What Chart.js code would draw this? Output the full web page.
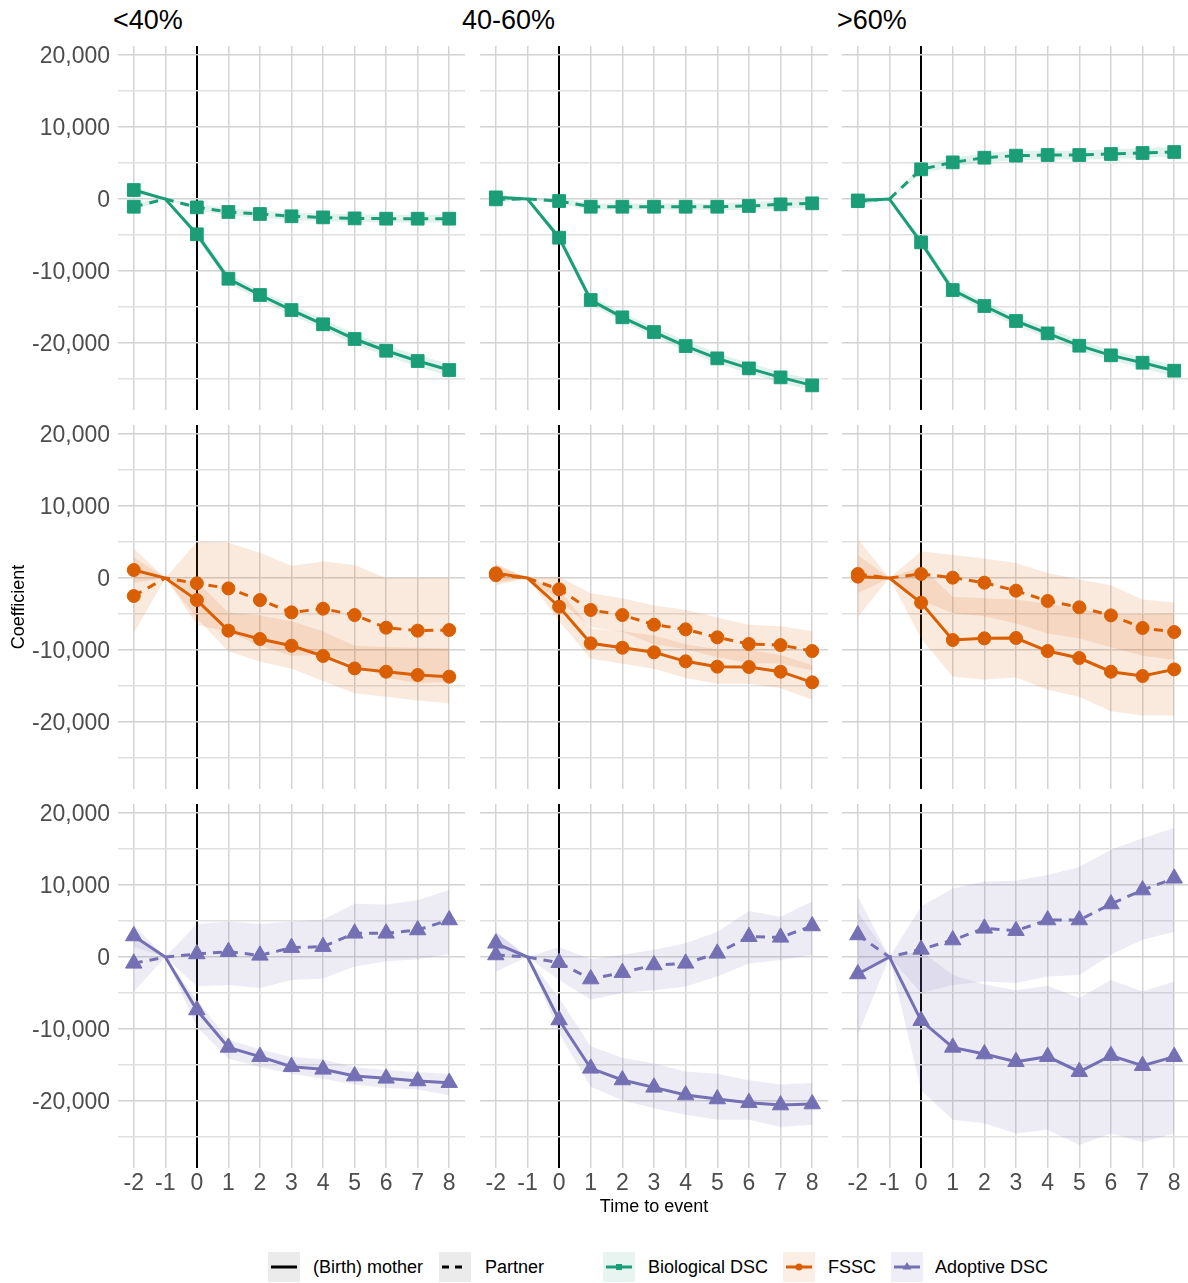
<!DOCTYPE html>
<html>
<head>
<meta charset="utf-8">
<script src="https://cdn.jsdelivr.net/npm/chart.js@4.4.1/dist/chart.umd.min.js"></script>
<style>
  body { margin: 0; background: #fff; font-family: 'Liberation Sans', Arial, sans-serif; }
  #page { position: relative; width: 1188px; height: 1283px; overflow: hidden; }
  .panel { position: absolute; }
  .strip { position: absolute; top: 4px; font-size: 27px; line-height: 32px; color: #000; }
  .key { position: absolute; top: 1252px; width: 32px; height: 30px; }
  .key svg { display: block; }
  .lab { position: absolute; top: 1256px; font-size: 18px; line-height: 22px; color: #000; }
</style>
</head>
<body>
<div id="page">
  <div class="strip" style="left:113px">&lt;40%</div>
  <div class="strip" style="left:462px">40-60%</div>
  <div class="strip" style="left:837px">&gt;60%</div>

  <div class="key" style="left:268px;background:#ebebeb">
    <svg width="32" height="30"><line x1="3" y1="15" x2="29" y2="15" stroke="#000" stroke-width="3"/></svg>
  </div>
  <div class="lab" style="left:313px">(Birth) mother</div>
  <div class="key" style="left:439px;background:#ebebeb">
    <svg width="32" height="30"><line x1="3" y1="15" x2="29" y2="15" stroke="#000" stroke-width="3" stroke-dasharray="7 6"/></svg>
  </div>
  <div class="lab" style="left:485px">Partner</div>

  <div class="key" style="left:603px;background:#e8f4ef">
    <svg width="32" height="30"><line x1="3" y1="15" x2="29" y2="15" stroke="#1b9e77" stroke-width="3"/><rect x="13" y="12" width="6" height="6" fill="#1b9e77"/></svg>
  </div>
  <div class="lab" style="left:648px">Biological DSC</div>
  <div class="key" style="left:783px;background:#fbeee4">
    <svg width="32" height="30"><line x1="3" y1="15" x2="29" y2="15" stroke="#d95f02" stroke-width="3"/><circle cx="16" cy="15" r="3.5" fill="#d95f02"/></svg>
  </div>
  <div class="lab" style="left:828px">FSSC</div>
  <div class="key" style="left:891px;background:#efeef6">
    <svg width="32" height="30"><line x1="3" y1="15" x2="29" y2="15" stroke="#7570b3" stroke-width="3"/><polygon points="16,10 20.5,17.5 11.5,17.5" fill="#7570b3"/></svg>
  </div>
  <div class="lab" style="left:935px">Adoptive DSC</div>
</div>

<script>
// time to event (years), also used as x tick labels
const timePoints = [-2, -1, 0, 1, 2, 3, 4, 5, 6, 7, 8];
const xTicks = [-2, -1, 0, 1, 2, 3, 4, 5, 6, 7, 8];
const groups = ['<40%', '40-60%', '>60%'];
const yMajorTicks = [-20000, -10000, 0, 10000, 20000];
const yMinorTicks = [-25000, -15000, -5000, 5000, 15000];

// Biological DSC, one row per group (<40%, 40-60%, >60%)
const bioMother = [
  [1250, 0, -4900, -11070, -13330, -15420, -17400, -19440, -21070, -22500, -23750],
  [230, 0, -5370, -14030, -16430, -18470, -20420, -22130, -23520, -24770, -25880],
  [-200, 0, -6020, -12640, -14860, -16940, -18660, -20370, -21710, -22730, -23840]
];
const bioMotherLo = [
  [700, 0, -5500, -11700, -14000, -16100, -18100, -20200, -21800, -23300, -24600],
  [-300, 0, -5900, -14600, -17000, -19100, -21100, -22800, -24200, -25500, -26600],
  [-800, 0, -6600, -13200, -15500, -17600, -19300, -21100, -22400, -23500, -24600]
];
const bioMotherHi = [
  [1800, 0, -4300, -10400, -12700, -14700, -16700, -18700, -20300, -21700, -22900],
  [800, 0, -4800, -13400, -15800, -17800, -19700, -21400, -22800, -24000, -25100],
  [400, 0, -5400, -12000, -14200, -16300, -17900, -19600, -21000, -22000, -23100]
];
const bioPartner = [
  [-1070, 0, -1160, -1800, -2080, -2400, -2550, -2690, -2730, -2730, -2730],
  [-50, 0, -280, -1070, -1070, -1070, -1070, -1070, -970, -740, -600],
  [-300, 0, 4120, 5090, 5740, 6020, 6110, 6110, 6250, 6390, 6530]
];
const bioPartnerLo = [
  [-1600, 0, -1600, -2300, -2600, -2900, -3100, -3200, -3300, -3300, -3300],
  [-600, 0, -700, -1500, -1500, -1500, -1500, -1600, -1500, -1300, -1200],
  [-900, 0, 3500, 4500, 5100, 5400, 5500, 5500, 5600, 5700, 5900]
];
const bioPartnerHi = [
  [-500, 0, -700, -1300, -1600, -1900, -2000, -2100, -2200, -2200, -2200],
  [500, 0, 100, -600, -600, -600, -600, -600, -400, -200, 0],
  [300, 0, 4700, 5700, 6400, 6700, 6700, 6700, 6900, 7100, 7200]
];

// FSSC
const fsscMother = [
  [1110, 0, -3060, -7310, -8470, -9400, -10830, -12550, -13010, -13470, -13700],
  [650, 0, -3980, -9070, -9680, -10320, -11570, -12310, -12360, -13010, -14490],
  [190, 0, -3430, -8610, -8380, -8330, -10140, -11110, -13010, -13610, -12690]
];
const fsscMotherLo = [
  [-700, 0, -5600, -10200, -11600, -12600, -14300, -16000, -16500, -17000, -17400],
  [-700, 0, -6000, -11200, -11900, -12600, -13900, -14700, -14700, -15300, -16900],
  [-5400, 0, -8400, -13700, -14100, -13800, -15500, -16500, -18500, -19100, -19100]
];
const fsscMotherHi = [
  [2900, 0, -500, -4800, -5200, -6000, -7400, -9400, -9600, -9700, -9800],
  [2000, 0, -1600, -7000, -7400, -8000, -9200, -9900, -10000, -10700, -12100],
  [5400, 0, 1600, -2600, -2800, -3000, -3600, -4300, -5000, -5000, -4900]
];
const fsscPartner = [
  [-2500, 0, -740, -1440, -3060, -4770, -4260, -5140, -6900, -7310, -7220],
  [400, 0, -1570, -4440, -5140, -6480, -7130, -8240, -9170, -9310, -10140],
  [560, 0, 560, 50, -650, -1760, -3190, -4070, -5190, -6940, -7500]
];
const fsscPartnerLo = [
  [-7700, 0, -6500, -7500, -9400, -10800, -10700, -11900, -13800, -14600, -14400],
  [-1000, 0, -3100, -6800, -7500, -9200, -9900, -11000, -11800, -11900, -12800],
  [-2100, 0, -3100, -4900, -5300, -6300, -7700, -8400, -9600, -10800, -11400]
];
const fsscPartnerHi = [
  [4100, 0, 5000, 4900, 3500, 1700, 2300, 1800, 0, 0, 0],
  [1800, 0, 200, -2100, -2800, -3800, -4400, -5500, -6500, -6700, -7400],
  [3200, 0, 3700, 3200, 2700, 2100, 700, -200, -1000, -3000, -3400]
];

// Adoptive DSC
const adoptMother = [
  [2920, 0, -7360, -12550, -13840, -15230, -15600, -16530, -16850, -17220, -17450],
  [1900, 0, -8750, -15460, -17080, -18100, -19170, -19720, -20230, -20560, -20420],
  [-2360, 0, -8840, -12550, -13470, -14540, -13840, -15930, -13700, -15090, -13840]
];
const adoptMotherLo = [
  [1400, 0, -9700, -14100, -15300, -16200, -16900, -17700, -18200, -18400, -19200],
  [300, 0, -10600, -18000, -19900, -21000, -21900, -22600, -22600, -23600, -23300],
  [-10800, 0, -18500, -22600, -23100, -24500, -24000, -26100, -24500, -25700, -24500]
];
const adoptMotherHi = [
  [4400, 0, -6000, -11500, -12800, -13900, -14200, -15300, -15700, -16000, -16200],
  [3500, 0, -5700, -12400, -14000, -14800, -15900, -16200, -17100, -17700, -17500],
  [6200, 0, 800, -2500, -3800, -4600, -4000, -5700, -3200, -4800, -3400]
];
const adoptPartner = [
  [-880, 0, 420, 740, 230, 1300, 1440, 3290, 3290, 3750, 5140],
  [280, 0, -790, -3060, -2170, -1110, -880, 510, 2820, 2730, 4310],
  [3060, 0, 1060, 2360, 3980, 3660, 5140, 5140, 7360, 9300, 10930]
];
const adoptPartnerLo = [
  [-4800, 0, -4100, -3900, -4300, -3200, -3000, -1300, -600, -300, 400],
  [-2000, 0, -3200, -5900, -5000, -4600, -4100, -2700, -900, -400, 300],
  [-2300, 0, -5000, -3900, -3400, -3600, -2700, -2500, 300, 2400, 3500]
];
const adoptPartnerHi = [
  [3000, 0, 4600, 4900, 4600, 4900, 5200, 7400, 7300, 7900, 9300],
  [3500, 0, 1400, -300, 300, 1000, 1900, 3500, 6400, 5600, 7700],
  [8400, 0, 7000, 9500, 10500, 10600, 11400, 12500, 14900, 16500, 17900]
];

const FONT = "'Liberation Sans', Arial, sans-serif";

const rows = [
  { color: '#1b9e77', band: 'rgba(27,158,119,0.13)', point: 'rect', radius: 9,
    mother: bioMother, motherLo: bioMotherLo, motherHi: bioMotherHi,
    partner: bioPartner, partnerLo: bioPartnerLo, partnerHi: bioPartnerHi },
  { color: '#d95f02', band: 'rgba(217,95,2,0.13)', point: 'circle', radius: 6.5,
    mother: fsscMother, motherLo: fsscMotherLo, motherHi: fsscMotherHi,
    partner: fsscPartner, partnerLo: fsscPartnerLo, partnerHi: fsscPartnerHi },
  { color: '#7570b3', band: 'rgba(117,112,179,0.13)', point: 'triangle', radius: 9.5,
    mother: adoptMother, motherLo: adoptMotherLo, motherHi: adoptMotherHi,
    partner: adoptPartner, partnerLo: adoptPartnerLo, partnerHi: adoptPartnerHi }
];

// canvas placement for each facet column / row
const colBox = [
  { left: 0, width: 470, axisW: 118, padR: 5 },
  { left: 470, width: 360, axisW: 10, padR: 2 },
  { left: 830, width: 360, axisW: 12, padR: 0 }
];
const rowBox = [
  { top: 0, height: 420, padT: 46, axisH: 10 },
  { top: 420, height: 380, padT: 5, axisH: 11 },
  { top: 800, height: 440, padT: 4, axisH: 72 }
];

function points(values) {
  return timePoints.map((t, i) => ({ x: t, y: values[i] }));
}

function makePanel(r, c) {
  const spec = rows[r], col = colBox[c], row = rowBox[r];
  const wrap = document.createElement('div');
  wrap.className = 'panel';
  wrap.style.left = col.left + 'px';
  wrap.style.top = row.top + 'px';
  const canvas = document.createElement('canvas');
  canvas.width = col.width;
  canvas.height = row.height;
  wrap.appendChild(canvas);
  document.getElementById('page').appendChild(wrap);

  // no marker at the reference year
  const radii = timePoints.map(t => t === -1 ? 0 : spec.radius);
  const line = (values, dashed) => ({
    data: points(values),
    borderColor: spec.color,
    borderWidth: 3,
    borderDash: dashed ? [9, 7] : [],
    pointStyle: spec.point,
    pointRadius: radii,
    pointBackgroundColor: spec.color,
    pointBorderColor: spec.color,
    pointBorderWidth: 1,
    fill: false,
    tension: 0
  });
  const lower = values => ({ data: points(values), borderWidth: 0, pointRadius: 0, fill: false });
  const upper = values => ({ data: points(values), borderWidth: 0, pointRadius: 0,
    backgroundColor: spec.band, fill: '-1' });

  new Chart(canvas, {
    type: 'line',
    data: {
      datasets: [
        line(spec.mother[c], false),
        line(spec.partner[c], true),
        lower(spec.motherLo[c]),
        upper(spec.motherHi[c]),
        lower(spec.partnerLo[c]),
        upper(spec.partnerHi[c])
      ]
    },
    options: {
      responsive: false,
      animation: false,
      events: [],
      devicePixelRatio: 1,
      layout: { autoPadding: false, padding: { top: row.padT, right: col.padR, left: 0, bottom: 0 } },
      plugins: { legend: { display: false }, tooltip: { enabled: false } },
      scales: {
        x: {
          type: 'linear',
          min: -2.5,
          max: 8.5,
          afterBuildTicks: s => { s.ticks = xTicks.map(v => ({ value: v })); },
          afterFit: s => {
            s.height = row.axisH;
            s.paddingLeft = 0;
            s.paddingRight = 0;
          },
          border: { display: false },
          grid: {
            drawTicks: false,
            color: ctx => ctx.tick && ctx.tick.value === 0 ? '#000000' : '#d4d4d4',
            lineWidth: ctx => ctx.tick && ctx.tick.value === 0 ? 2 : 1.5
          },
          ticks: {
            display: r === 2,
            autoSkip: false,
            maxRotation: 0,
            padding: 2,
            color: '#4d4d4d',
            font: { family: FONT, size: 23 },
            callback: v => String(v)
          },
          title: {
            display: r === 2 && c === 1,
            text: 'Time to event',
            color: '#000',
            font: { family: FONT, size: 18 },
            padding: { top: 2, bottom: 22 }
          }
        },
        y: {
          min: -29300,
          max: 21250,
          afterBuildTicks: s => {
            s.ticks = yMinorTicks.concat(yMajorTicks).sort((a, b) => a - b).map(v => ({ value: v }));
          },
          afterFit: s => {
            s.width = col.axisW;
            s.paddingTop = 0;
            s.paddingBottom = 0;
          },
          border: { display: false },
          grid: {
            drawTicks: false,
            color: ctx => ctx.tick && yMajorTicks.includes(ctx.tick.value) ? '#d2d2d2' : '#e0e0e0',
            lineWidth: 1.5
          },
          ticks: {
            display: c === 0,
            padding: 8,
            labelOffset: 2,
            color: '#4d4d4d',
            font: { family: FONT, size: 23 },
            callback: v => yMajorTicks.includes(v) ? v.toLocaleString('en-US') : ''
          },
          title: {
            display: c === 0 && r === 1,
            text: 'Coefficient',
            color: '#000',
            font: { family: FONT, size: 18 },
            padding: { top: 8, bottom: 0 }
          }
        }
      }
    }
  });
}

for (let r = 0; r < rows.length; r++) {
  for (let c = 0; c < groups.length; c++) {
    makePanel(r, c);
  }
}
</script>
</body>
</html>
